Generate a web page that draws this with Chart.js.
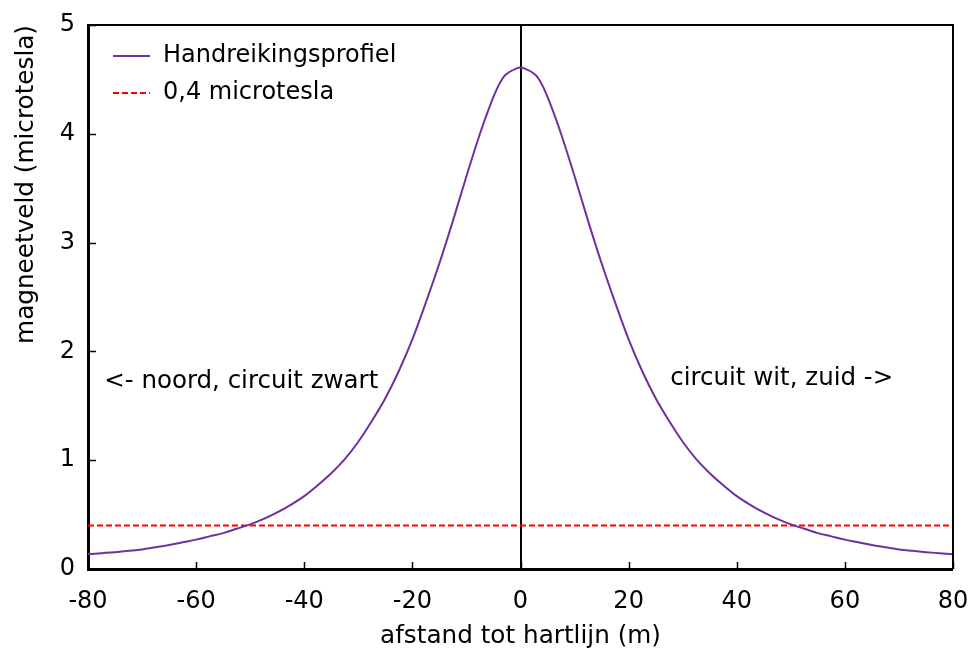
<!DOCTYPE html>
<html>
<head>
<meta charset="utf-8">
<title>Magneetveld</title>
<script src="https://cdn.jsdelivr.net/npm/chart.js@4/dist/chart.umd.min.js"></script>
<style>
  html, body { margin: 0; padding: 0; background: #ffffff; }
  #wrap { width: 970px; height: 648px; }
</style>
</head>
<body>
<div id="wrap"><canvas id="c" width="970" height="648"></canvas></div>
<script>
// Afstand tot de hartlijn (m)
const afstand = [
  -80, -77.5, -75, -72.5, -70, -67.5, -65, -62.5, -60, -57.5, -55, -52.5, -50,
  -47.5, -45, -42.5, -40, -37.5, -35, -32.5, -30, -27.5, -25, -22.5, -20,
  -17.5, -15, -12.5, -10, -7.5, -6, -5, -4, -3, -2, -1, 0, 1, 2, 3, 4, 5, 6, 7.5,
  10, 12.5, 15, 17.5, 20, 22.5, 25, 27.5, 30, 32.5, 35, 37.5, 40, 42.5, 45, 47.5,
  50, 52.5, 55, 57.5, 60, 62.5, 65, 67.5, 70, 72.5, 75, 77.5, 80
];

// Handreikingsprofiel, magneetveld in microtesla
const profiel = [
  0.135, 0.145, 0.155, 0.167, 0.18, 0.20, 0.22, 0.245, 0.27, 0.30, 0.33, 0.37, 0.41,
  0.46, 0.52, 0.59, 0.67, 0.77, 0.88, 1.01, 1.17, 1.36, 1.57, 1.82, 2.11,
  2.45, 2.81, 3.20, 3.61, 4.00, 4.21, 4.34, 4.45, 4.53, 4.57, 4.595, 4.61, 4.595, 4.57, 4.53, 4.45, 4.34, 4.21, 4.00,
  3.61, 3.20, 2.81, 2.45, 2.11, 1.82, 1.57, 1.36, 1.17, 1.01, 0.88, 0.77, 0.67, 0.59, 0.52, 0.46,
  0.41, 0.37, 0.33, 0.30, 0.27, 0.245, 0.22, 0.20, 0.18, 0.167, 0.155, 0.145, 0.135
];

// Grenswaarde
const grensX = [-80, 80];
const grensY = [0.4, 0.4];

const xTicks = [-80, -60, -40, -20, 0, 20, 40, 60, 80];
const yTicks = [0, 1, 2, 3, 4, 5];

const FONT = "'DejaVu Sans', Verdana, sans-serif";
const FS = 24;

// Frame, inward tick marks, in-plot legend and side labels
const decorPlugin = {
  id: 'decor',
  afterDatasetsDraw(chart, args, opts) {
    const { ctx, chartArea: a, scales } = chart;
    const sx = scales.x, sy = scales.y;
    ctx.save();

    // top and right frame lines
    ctx.strokeStyle = '#000';
    ctx.lineWidth = 2;
    ctx.beginPath();
    ctx.moveTo(a.left, a.top);
    ctx.lineTo(a.right, a.top);
    ctx.lineTo(a.right, a.bottom);
    ctx.stroke();

    // tick marks pointing into the plot
    ctx.lineWidth = 1.5;
    ctx.beginPath();
    xTicks.forEach(v => {
      const px = Math.round(sx.getPixelForValue(v)) + 0.5;
      ctx.moveTo(px, a.bottom);
      ctx.lineTo(px, a.bottom - 7);
    });
    yTicks.forEach(v => {
      const py = Math.round(sy.getPixelForValue(v)) + 0.5;
      ctx.moveTo(a.left, py);
      ctx.lineTo(a.left + 8, py);
    });
    ctx.stroke();

    // legend
    ctx.font = FS + 'px ' + FONT;
    ctx.textBaseline = 'middle';
    ctx.textAlign = 'left';
    chart.data.datasets.forEach((ds, i) => {
      const y = a.top + 31 + i * 37;
      ctx.strokeStyle = ds.borderColor;
      ctx.lineWidth = ds.borderWidth;
      ctx.setLineDash(ds.borderDash || []);
      ctx.beginPath();
      ctx.moveTo(a.left + 25, y);
      ctx.lineTo(a.left + 62, y);
      ctx.stroke();
      ctx.setLineDash([]);
      ctx.fillStyle = '#000';
      ctx.fillText(ds.label, a.left + 75, y);
    });

    // side labels
    ctx.font = opts.labelSize + 'px ' + FONT;
    (opts.labels || []).forEach(l => {
      ctx.fillStyle = '#000';
      ctx.fillText(l.text, sx.getPixelForValue(l.x), sy.getPixelForValue(l.y));
    });

    ctx.restore();
  }
};

new Chart(document.getElementById('c'), {
  type: 'line',
  data: {
    datasets: [
      {
        label: 'Handreikingsprofiel',
        data: afstand.map((x, i) => ({ x, y: profiel[i] })),
        borderColor: '#7030A0',
        borderWidth: 2,
        pointRadius: 0,
        cubicInterpolationMode: 'monotone',
        fill: false
      },
      {
        label: '0,4 microtesla',
        data: grensX.map((x, i) => ({ x, y: grensY[i] })),
        borderColor: '#FF0000',
        borderWidth: 1.8,
        borderDash: [6, 3],
        pointRadius: 0,
        fill: false
      }
    ]
  },
  options: {
    responsive: false,
    animation: false,
    devicePixelRatio: 1,
    layout: { padding: { left: 0, right: 17, top: 25, bottom: 0 } },
    plugins: {
      legend: { display: false },
      tooltip: { enabled: false },
      decor: {
        labelSize: 24.5,
        labels: [
          { text: '<- noord, circuit zwart', x: -77, y: 1.72 },
          { text: 'circuit wit, zuid ->', x: 27.7, y: 1.75 }
        ]
      }
    },
    scales: {
      x: {
        type: 'linear',
        min: -80,
        max: 80,
        afterBuildTicks: s => { s.ticks = xTicks.map(v => ({ value: v })); },
        afterFit: s => { s.height = 79; s.paddingLeft = 0; s.paddingRight = 0; },
        border: { display: true, color: '#000', width: 3 },
        grid: {
          drawTicks: false,
          drawOnChartArea: true,
          color: c => (c.tick && c.tick.value === 0 ? '#000' : 'rgba(0,0,0,0)'),
          lineWidth: c => (c.tick && c.tick.value === 0 ? 2 : 0)
        },
        ticks: {
          color: '#000',
          font: { family: FONT, size: FS },
          padding: 18,
          maxRotation: 0,
          autoSkip: false
        },
        title: {
          display: true,
          text: 'afstand tot hartlijn (m)',
          color: '#000',
          font: { family: FONT, size: 24.7 },
          padding: { top: 0, bottom: -3 }
        }
      },
      y: {
        type: 'linear',
        min: 0,
        max: 5,
        afterBuildTicks: s => { s.ticks = yTicks.map(v => ({ value: v })); },
        afterFit: s => { s.width = 88; s.paddingTop = 0; s.paddingBottom = 0; },
        border: { display: true, color: '#000', width: 3 },
        grid: { display: false, drawTicks: false },
        ticks: {
          color: '#000',
          font: { family: FONT, size: FS },
          padding: 13
        },
        title: {
          display: true,
          text: 'magneetveld (microtesla)',
          align: 'end',
          color: '#000',
          font: { family: FONT, size: 24.7 },
          padding: { top: 12, bottom: 0 }
        }
      }
    }
  },
  plugins: [decorPlugin]
});
</script>
</body>
</html>
